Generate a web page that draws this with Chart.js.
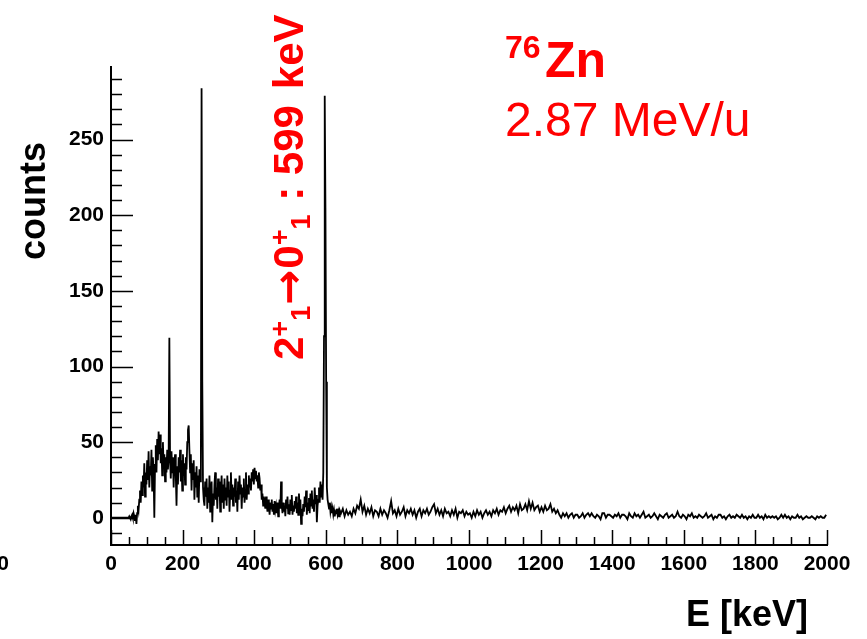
<!DOCTYPE html>
<html>
<head>
<meta charset="utf-8">
<title>76Zn gamma spectrum</title>
<script src="https://cdn.jsdelivr.net/npm/chart.js@4"></script>
<style>
    body { margin: 0; background: #fff; }
    canvas { display: block; }
</style>
</head>
<body>
<canvas id="myChart" width="867" height="639"></canvas>
<script>
// fine binning below 640 keV, coarser above
const LOW_BIN = 2   // keV per bin, 0 - 640 keV
const HIGH_BIN = 5  // keV per bin, 640 - 2000 keV
const HIGH_START = 640

// counts per 2 keV bin
const counts_0_70 = [
    0, 0, 0, 0, 0, 0, 0, 0, 0, 0, 0, 0, 0, 0, 0, 0, 0, 0, 0, 0, 0, 0, 0, 0,
    0, 1, 0, -1, 1, 2, 0, 3, 1, -2, 2
]
const counts_70_250 = [
    -4, 3, 8, 5, 12,   18, 10, 24, 15, 28,
    20, 36, 14, 30, 22,   38, 25, 44, 20, 34,
    28, 45, 18, 40, 30,   0, 35, 48, 30, 52,
    38, 57, 42, 55, 36,   46, 28, 50, 34, 42,
    24, 40, 30, 45, 32,   40, 119, 38, 26, 44,
    30, 40, 20, 36, 42,   28, 8, 34, 22, 40,
    30, 45, 24, 38, 18,   42, 28, 36, 22, 40,
    32, 50, 58, 61, 45,   30, 42, 18, 36, 25,
    38, 12, 30, 20, 34,   14, 28, 10, 32, 24
]
const counts_250_450 = [
    30, 284, 90, 20, 12,   8, 24, 14, 26, 6,
    20, 10, 28, 4, 18,   24, -3, 16, 8, 22,
    30, 12, 20, 6, 26,   14, 24, 4, 18, 28,
    10, 22, 6, 26, 12,   20, 8, 28, 14, 24,
    4, 18, 30, 12, 22,   8, 20, 14, 26, 10,
    18, 4, 24, 12, 28,   16, 22, 6, 20, 14,
    26, 10, 18, 30, 12,   22, 16, 28, 20, 26,
    18, 30, 24, 32, 22,   33, 26, 31, 24, 28,
    20, 30, 26, 18, 22,   12, 16, 8, 14, 10,
    6, 14, 9, 4, 12,   8, 2, 10, 6, 12
]
const counts_450_640 = [
    4, 9, 2, 11, 5,   8, 3, 10, 1, 7,
    12, 6, 24, 8, 3,   10, 4, 8, 1, 12,
    6, 14, 3, 9, 2,   12, 5, 15, 2, 8,
    4, 11, 6, 14, 3,   10, 2, 16, 5, 12,
    -4, 6, 1, 9, 4,   14, 7, 18, 2, 10,
    5, 13, 3, 16, 8,   18, 6, 12, 4, 20,
    9, 15, -3, 8, 12,   20, 10, 24, 14, 22,
    12, 30, 120, 279, 205,   90, 20, 12, 9, 6,
    10, 4, 7, 3, 6,   2, 5, 1, 4, 3,
    6, 2, 4, 1, 5
]

// counts per 5 keV bin
const counts_640_1000 = [
    3, 6, 1, 5, 2, 4, 1, 6, 3, 8,
    6, 12, 4, 8, 2, 6, 3, 7, 1, 5,
    4, 1, 6, 2, 5, 3, 0, 5, 11, 3,
    5, 1, 6, 2, 4, 7, 1, 5, 3, 6,
    2, 5, 0, 4, 6, 1, 5, 3, 6, 2,
    4, 7, 9, 3, 6, 2, 5, 1, 6, 3,
    4, 1, 5, 2, 6, 0, 4, 3, 5, 1,
    4, 2
]
const counts_1000_1500 = [
    3, 0, 4, 1, 5, 2, 4, 0, 3, 5,
    2, 4, 1, 5, 3, 6, 2, 5, 4, 7,
    3, 6, 8, 4, 7, 5, 8, 3, 9, 5,
    6, 9, 5, 11, 6, 10, 5, 7, 8, 4,
    7, 4, 8, 5, 6, 9, 4, 6, 3, 5,
    2, 0, 3, 1, 3, 0, 2, 3, 0, 2,
    2, 0, 1, 3, 0, 2, 3, 1, 3, 1,
    0, 2, 1, -1, 3, 3, 0, 2, 2, 1,
    0, 2, 1, 3, 0, 2, 2, 1, -1, 3,
    1, 0, 3, 1, 2, 0, 2, 4, 0, 1
]
const counts_1500_2000 = [
    2, 0, 1, 3, 1, -1, 2, 1, 0, 2,
    3, 0, 1, 2, 0, 1, 4, 1, 0, 2,
    1, -1, 2, 1, 3, 0, 1, 0, 2, 1,
    0, 1, 3, 0, 1, 2, -1, 1, 0, 2,
    2, 0, 1, -1, 1, 2, 0, 1, 0, 2,
    1, 0, 2, 0, 1, -1, 1, 0, 2, 0,
    0, 2, 0, 1, -1, 2, 0, 1, 0, 1,
    0, 1, -1, 0, 2, 0, 2, 0, 1, -1,
    1, 0, 0, 2, 0, 1, -1, 0, 1, 0,
    0, 1, 0, -1, 1, 0, 1, 0, 0, 2
]

const xTicks = [0, 200, 400, 600, 800, 1000, 1200, 1400, 1600, 1800, 2000]
const yTicks = [0, 50, 100, 150, 200, 250]

const FONT = 'Liberation Sans, Arial, Helvetica, sans-serif'

function build_points() {
    let low = counts_0_70.concat(counts_70_250, counts_250_450, counts_450_640)
    let high = counts_640_1000.concat(counts_1000_1500, counts_1500_2000)
    let points = []
    for (let i = 0; i < low.length; i++) {
        points.push({ x: i * LOW_BIN + LOW_BIN / 2, y: low[i] })
    }
    for (let i = 0; i < high.length; i++) {
        points.push({ x: HIGH_START + i * HIGH_BIN + HIGH_BIN / 2, y: high[i] })
    }
    return points
}

// ROOT style ticks pointing into the frame
const innerTicks = {
    id: 'innerTicks',
    afterDraw(chart) {
        let ctx = chart.ctx
        let xs = chart.scales.x
        let ys = chart.scales.y
        let left = chart.chartArea.left
        let bottom = chart.chartArea.bottom
        ctx.save()
        ctx.strokeStyle = '#000'
        ctx.lineWidth = 1.5
        ctx.beginPath()
        for (let v = -10; v <= 290; v += 10) {
            let py = Math.round(ys.getPixelForValue(v)) + 0.5
            let len = v % 50 === 0 ? 22 : 11
            ctx.moveTo(left, py)
            ctx.lineTo(left + len, py)
        }
        for (let v = 0; v <= 2000; v += 50) {
            let px = Math.round(xs.getPixelForValue(v)) + 0.5
            let len = v % 200 === 0 ? 15 : 8
            ctx.moveTo(px, bottom)
            ctx.lineTo(px, bottom - len)
        }
        ctx.stroke()
        ctx.restore()
    }
}

// axis titles and annotations
const labels = {
    id: 'labels',
    afterDraw(chart) {
        let ctx = chart.ctx
        ctx.save()
        ctx.fillStyle = '#000'
        ctx.textBaseline = 'alphabetic'

        // y title
        ctx.save()
        ctx.translate(45, 201)
        ctx.rotate(-Math.PI / 2)
        ctx.textAlign = 'center'
        ctx.font = 'bold 36px ' + FONT
        ctx.fillText('counts', 0, 0)
        ctx.restore()

        // x title
        ctx.textAlign = 'right'
        ctx.font = 'bold 36px ' + FONT
        ctx.fillText('E [keV]', 808, 626)

        // stray label from neighbouring pad
        ctx.textBaseline = 'middle'
        ctx.font = 'bold 21px ' + FONT
        ctx.fillText('0', 9, 564)

        // nucleus and beam energy
        ctx.fillStyle = '#ff0000'
        ctx.textAlign = 'left'
        ctx.textBaseline = 'alphabetic'
        ctx.font = 'bold 32px ' + FONT
        ctx.fillText('76', 505, 58)
        ctx.font = 'bold 50px ' + FONT
        ctx.fillText('Zn', 545, 77)
        ctx.font = '48px ' + FONT
        ctx.fillText('2.87 MeV/u', 505, 136)

        // transition label along the 599 keV peak: [text, size, shift, family, extra gap]
        let runs = [
            ['2', 42, 0, FONT, 0],
            ['+', 27, -14, FONT, 0],
            ['1', 27, 7, FONT, 1],
            ['\u2192', 42, 0, 'DejaVu Sans', 1],
            ['0', 42, 0, FONT, 0],
            ['+', 27, -14, FONT, 0],
            ['1', 27, 7, FONT, 2],
            [' : 599', 42, 0, FONT, 16],
            ['keV', 42, 0, FONT, 0]
        ]
        ctx.save()
        ctx.translate(303, 360)
        ctx.rotate(-Math.PI / 2)
        let pos = 0
        for (let i = 0; i < runs.length; i++) {
            ctx.font = 'bold ' + runs[i][1] + 'px ' + runs[i][3]
            ctx.fillText(runs[i][0], pos, runs[i][2])
            pos += ctx.measureText(runs[i][0]).width + runs[i][4]
        }
        ctx.restore()

        ctx.restore()
    }
}

function draw_chart(points) {
    let ctx = document.getElementById('myChart').getContext('2d')
    new Chart(ctx, {
        type: 'line',
        data: {
            datasets: [{
                data: points,
                borderColor: '#000',
                borderWidth: 1.8,
                pointRadius: 0,
                tension: 0,
                fill: false
            }]
        },
        options: {
            responsive: false,
            animation: false,
            devicePixelRatio: 1,
            layout: { padding: { left: 0, right: 40, top: 67, bottom: 0 } },
            plugins: {
                legend: { display: false },
                tooltip: { enabled: false }
            },
            scales: {
                x: {
                    type: 'linear',
                    min: 0,
                    max: 2000,
                    afterBuildTicks: (s) => { s.ticks = xTicks.map(v => ({ value: v })) },
                    afterFit: (s) => { s.height = 94 },
                    grid: { display: true, drawOnChartArea: false, drawTicks: false },
                    border: { display: true, color: '#000', width: 2 },
                    ticks: {
                        color: '#000',
                        padding: 7,
                        maxRotation: 0,
                        callback: (v) => String(v),
                        font: { family: FONT, size: 21, weight: 'bold' }
                    }
                },
                y: {
                    type: 'linear',
                    min: -18,
                    max: 298,
                    afterBuildTicks: (s) => { s.ticks = yTicks.map(v => ({ value: v })) },
                    afterFit: (s) => { s.width = 111 },
                    grid: { display: true, drawOnChartArea: false, drawTicks: false },
                    border: { display: true, color: '#000', width: 2 },
                    ticks: {
                        color: '#000',
                        padding: 7,
                        callback: (v) => String(v),
                        font: { family: FONT, size: 21, weight: 'bold' }
                    }
                }
            }
        },
        plugins: [innerTicks, labels]
    })
}

document.addEventListener('DOMContentLoaded', function () {
    draw_chart(build_points())
})
</script>
</body>
</html>
